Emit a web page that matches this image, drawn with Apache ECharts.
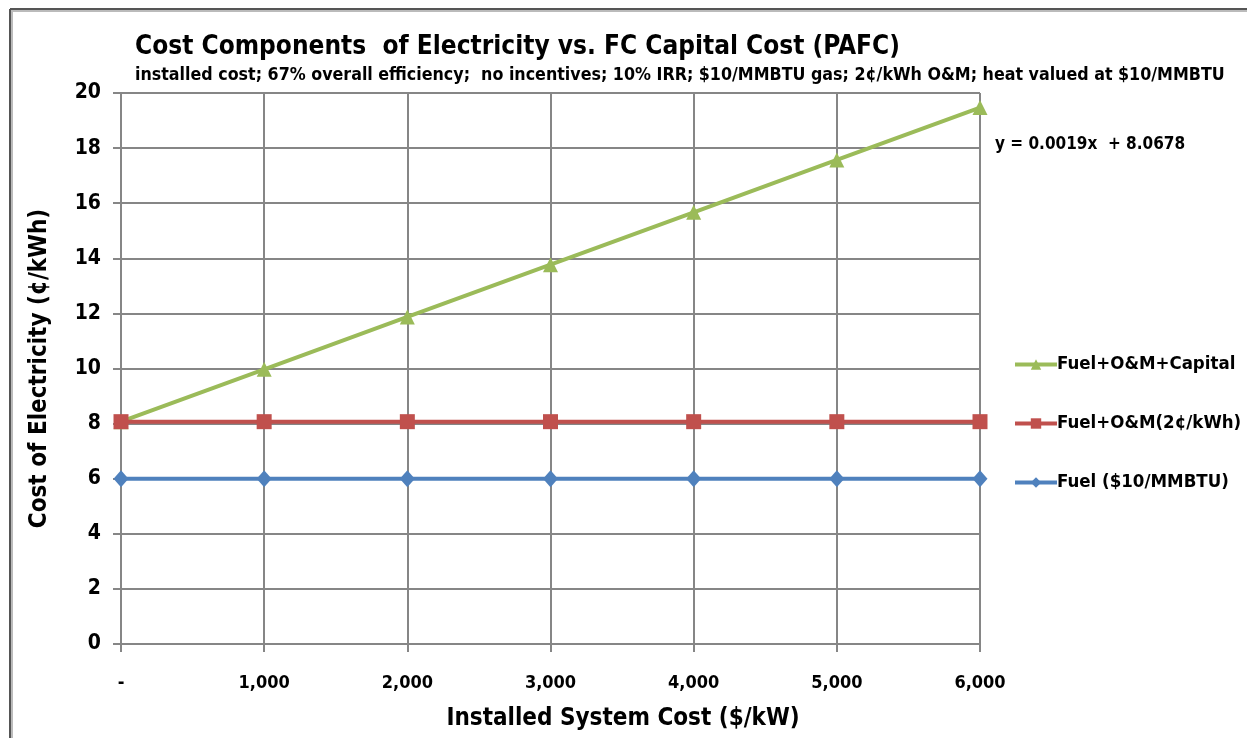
<!DOCTYPE html>
<html>
<head>
<meta charset="utf-8">
<script src="https://cdn.jsdelivr.net/npm/echarts@6/dist/echarts.min.js"></script>
<style>
  html, body { margin: 0; padding: 0; background: #fff; }
  #chart { width: 1247px; height: 738px; }
</style>
</head>
<body>
<div id="chart"></div>
<script>
// Installed system cost ($/kW)
const systemCost = [0, 1000, 2000, 3000, 4000, 5000, 6000];
// Cost of electricity (¢/kWh) per component stack
const fuelOmCapital = [8.07, 9.97, 11.87, 13.77, 15.67, 17.57, 19.47];
const fuelOm = [8.07, 8.07, 8.07, 8.07, 8.07, 8.07, 8.07];
const fuelOnly = [6.0, 6.0, 6.0, 6.0, 6.0, 6.0, 6.0];
const seriesNames = ['Fuel+O&M+Capital', 'Fuel+O&M(2¢/kWh)', 'Fuel ($10/MMBTU)'];
const trendText = 'y = 0.0019x  + 8.0678';

const FONT = '"Liberation Sans Narrow", "DejaVu Sans Condensed", "Open Sans", sans-serif';
const pairs = arr => systemCost.map((x, i) => [x, arr[i]]);

const chart = echarts.init(document.getElementById('chart'), null, { renderer: 'canvas' });

chart.setOption({
  backgroundColor: '#ffffff',
  animation: false,
  textStyle: { fontFamily: FONT, fontWeight: 'bold', color: '#000' },
  graphic: [
    // chart frame (top and left edges)
    { type: 'line', shape: { x1: 10, y1: 9, x2: 1247, y2: 9 }, style: { stroke: '#555', lineWidth: 2 } },
    { type: 'line', shape: { x1: 10, y1: 11, x2: 1247, y2: 11 }, style: { stroke: '#bbb', lineWidth: 2 } },
    { type: 'line', shape: { x1: 10, y1: 9, x2: 10, y2: 738 }, style: { stroke: '#555', lineWidth: 2 } },
    { type: 'line', shape: { x1: 12, y1: 11, x2: 12, y2: 738 }, style: { stroke: '#bbb', lineWidth: 2 } },
    {
      type: 'text', left: 135, top: 34,
      style: { text: 'Cost Components  of Electricity vs. FC Capital Cost (PAFC)', font: 'bold 26px ' + FONT, fill: '#000' }
    },
    {
      type: 'text', left: 135, top: 66,
      style: { text: 'installed cost; 67% overall efficiency;  no incentives; 10% IRR; $10/MMBTU gas; 2¢/kWh O&M; heat valued at $10/MMBTU', font: 'bold 17.7px ' + FONT, fill: '#000' }
    },
    {
      type: 'text', left: 995, top: 136,
      style: { text: trendText, font: 'bold 17px ' + FONT, fill: '#000' }
    },
    {
      type: 'text', x: 623, y: 719,
      style: { text: 'Installed System Cost ($/kW)', font: 'bold 24px ' + FONT, fill: '#000', align: 'center', verticalAlign: 'middle' }
    }
  ],
  grid: { left: 121, top: 93, width: 859, height: 551, containLabel: false, outerBoundsMode: 'none' },
  legend: {
    orient: 'vertical',
    left: 1008, top: 350,
    itemWidth: 42, itemHeight: 13, itemGap: 40,
    lineStyle: { width: 4 },
    textStyle: { fontFamily: FONT, fontWeight: 'bold', fontSize: 18.5, color: '#000', padding: [0, 0, 0, -5] },
    data: seriesNames
  },
  xAxis: {
    type: 'value', min: 0, max: 6000, interval: 1000,
    axisLine: { show: true, lineStyle: { color: '#868686', width: 2 } },
    axisTick: { show: true, length: 8, lineStyle: { color: '#868686', width: 2 } },
    axisLabel: {
      margin: 30, fontFamily: FONT, fontWeight: 'bold', fontSize: 18, color: '#000',
      formatter: v => v === 0 ? '-' : v.toLocaleString('en-US')
    },
    splitLine: { show: true, lineStyle: { color: '#868686', width: 2 } }
  },
  yAxis: {
    type: 'value', min: 0, max: 20, interval: 2,
    name: 'Cost of Electricity (¢/kWh)', nameLocation: 'middle', nameGap: 69,
    nameTextStyle: { fontFamily: FONT, fontWeight: 'bold', fontSize: 24, color: '#000' },
    axisLine: { show: true, lineStyle: { color: '#868686', width: 2 } },
    axisTick: { show: true, inside: false, length: 8, lineStyle: { color: '#868686', width: 2 } },
    axisLabel: { margin: 20, fontFamily: FONT, fontWeight: 'bold', fontSize: 21, color: '#000' },
    splitLine: { show: true, lineStyle: { color: '#868686', width: 2 } }
  },
  series: [
    {
      name: seriesNames[0], type: 'line', data: pairs(fuelOmCapital),
      symbol: 'triangle', symbolSize: 15,
      lineStyle: { color: '#9bbb59', width: 4 }, itemStyle: { color: '#9bbb59' }, z: 2
    },
    {
      name: seriesNames[1], type: 'line', data: pairs(fuelOm),
      symbol: 'rect', symbolSize: 15,
      lineStyle: { color: '#c0504d', width: 4 }, itemStyle: { color: '#c0504d' }, z: 3
    },
    {
      name: seriesNames[2], type: 'line', data: pairs(fuelOnly),
      symbol: 'diamond', symbolSize: [15, 17],
      lineStyle: { color: '#4f81bd', width: 4 }, itemStyle: { color: '#4f81bd' }, z: 4
    }
  ]
});
</script>
</body>
</html>
